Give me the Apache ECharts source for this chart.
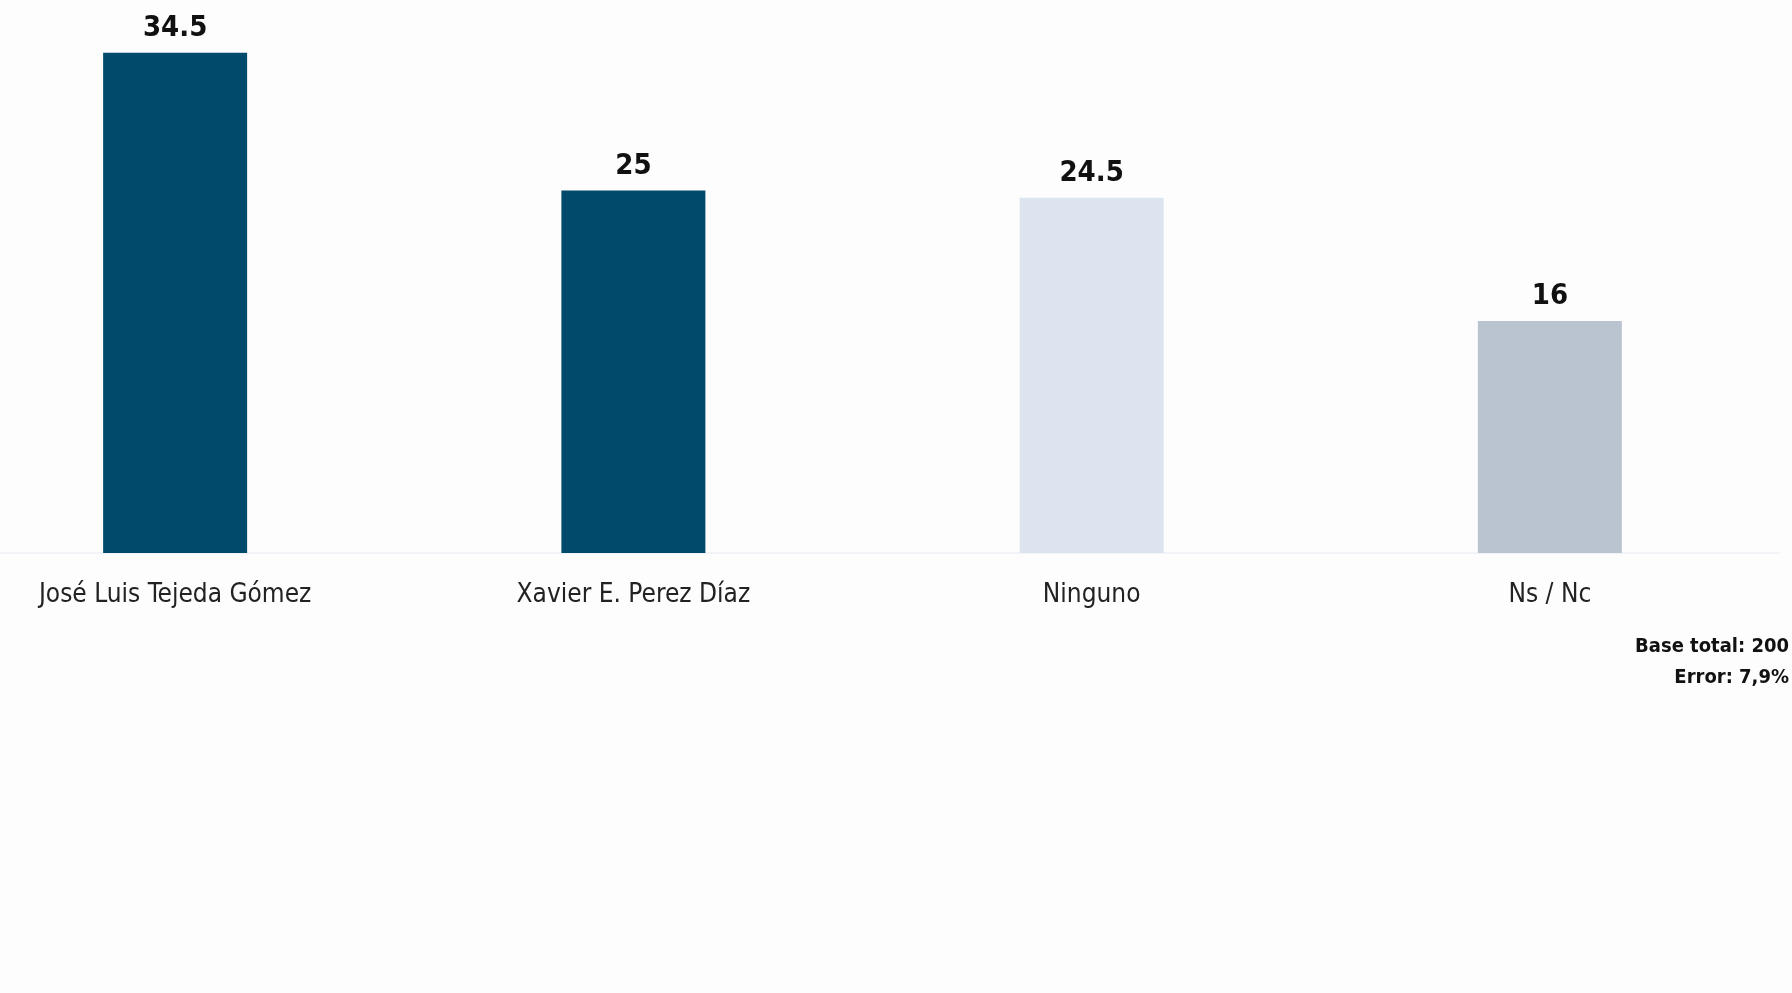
<!DOCTYPE html>
<html>
<head>
<meta charset="utf-8">
<script src="https://cdn.jsdelivr.net/npm/echarts@6/dist/echarts.min.js"></script>
<style>
html,body{margin:0;padding:0;background:#fdfdfd;}
#chart{width:1792px;height:993px;}
</style>
</head>
<body>
<div id="chart"></div>
<script>
const categories = ['José Luis Tejeda Gómez', 'Xavier E. Perez Díaz', 'Ninguno', 'Ns / Nc'];
const values = [34.5, 25, 24.5, 16];
const barColors = ['#024a6c', '#024a6c', '#dce4f0', '#bac4d0'];
const noteLines = ['Base total: 200', 'Error: 7,9%'];

const chart = echarts.init(document.getElementById('chart'));
chart.setOption({
  backgroundColor: '#fdfdfd',
  animation: false,
  grid: { left: -54, right: 13, top: 31, bottom: 440, containLabel: false, outerBoundsMode: 'none' },
  xAxis: {
    type: 'category',
    data: categories,
    axisLine: { show: true, lineStyle: { color: '#f1f3f6', width: 2 } },
    axisTick: { show: false },
    axisLabel: {
      margin: 29,
      fontFamily: '"DejaVu Sans Condensed", "Liberation Sans", sans-serif',
      fontSize: 26,
      color: '#222'
    }
  },
  yAxis: {
    type: 'value',
    min: 0,
    max: 36,
    show: false,
    splitLine: { show: false }
  },
  series: [{
    type: 'bar',
    barWidth: 144,
    data: values.map((v, i) => ({ value: v, itemStyle: { color: barColors[i] } })),
    label: {
      show: true,
      position: 'top',
      distance: 10,
      fontFamily: '"DejaVu Sans Condensed", "Liberation Sans", sans-serif',
      fontWeight: 'bold',
      fontSize: 29,
      color: '#111'
    }
  }],
  graphic: [{
    type: 'text',
    right: 3,
    top: 631,
    style: {
      text: noteLines.join('\n'),
      textAlign: 'right',
      fontFamily: '"DejaVu Sans Condensed", "Liberation Sans", sans-serif',
      fontWeight: 'bold',
      fontSize: 20,
      lineHeight: 31,
      fill: '#111'
    }
  }]
});
</script>
</body>
</html>
